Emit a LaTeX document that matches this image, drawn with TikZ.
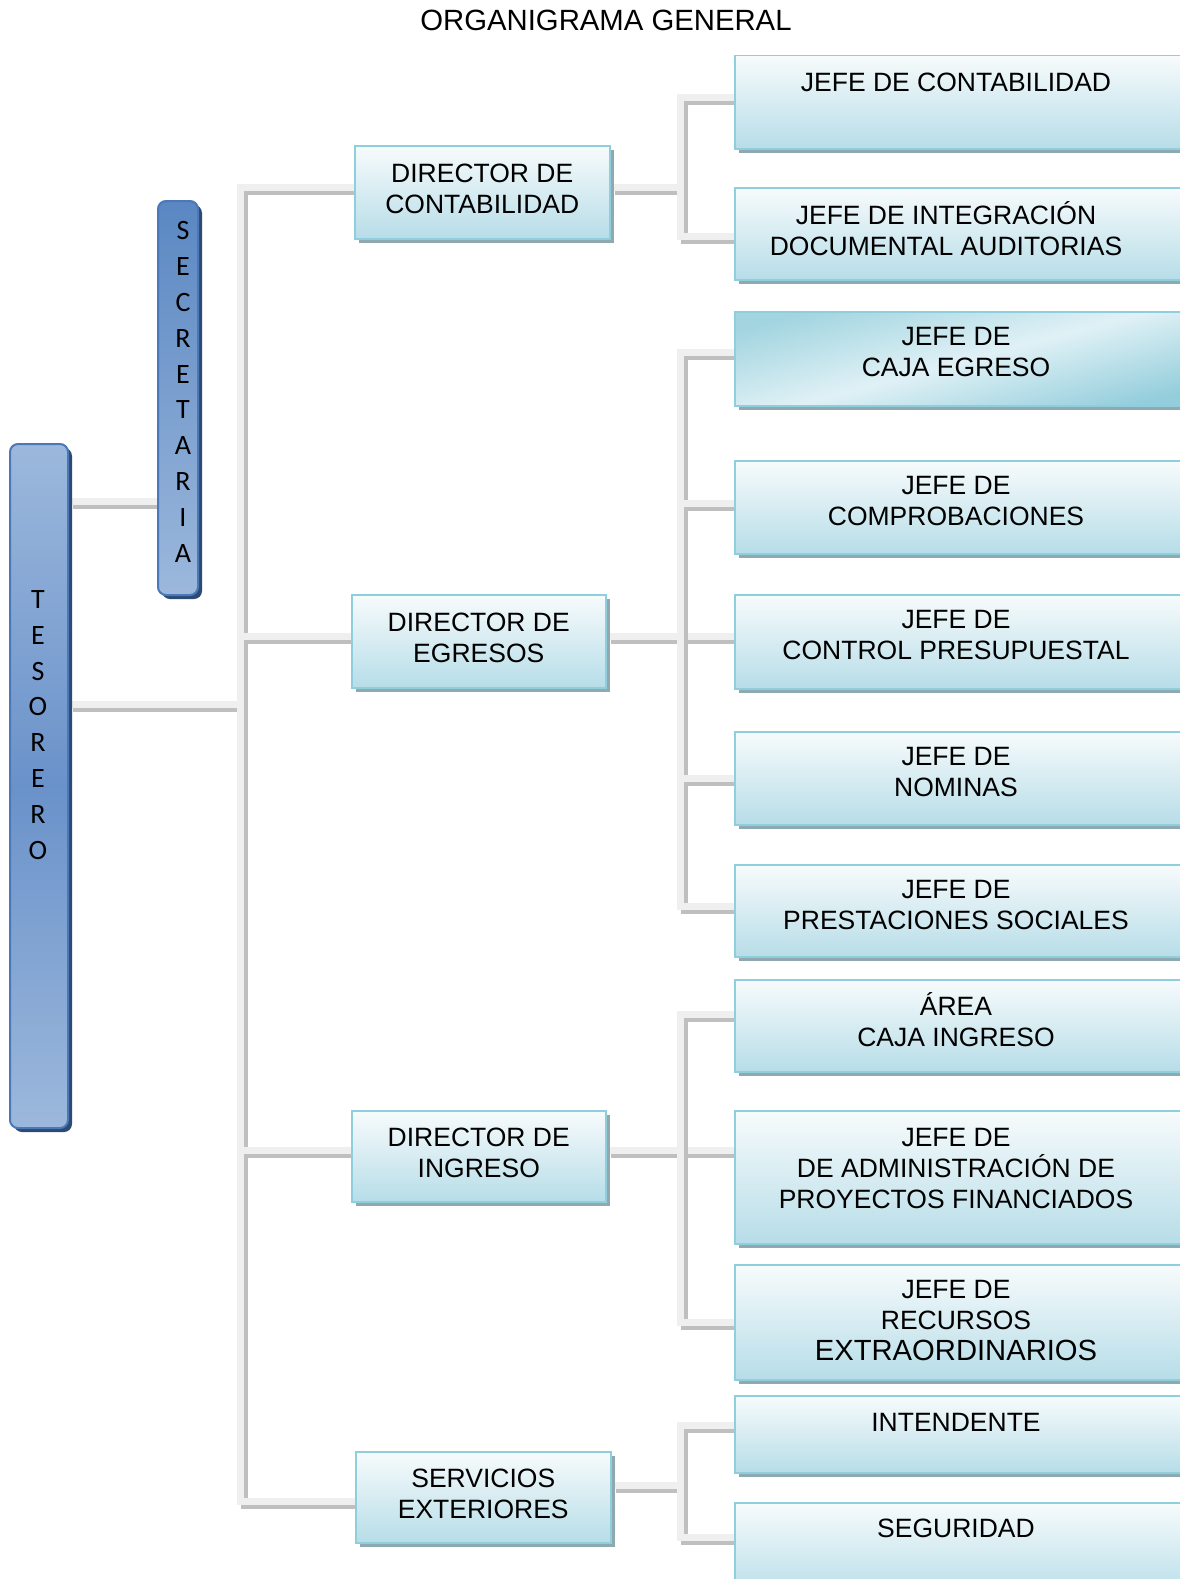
\documentclass[tikz,border=0pt]{standalone}
\usepackage{fontspec}
\setmainfont{Liberation Sans}
\newfontfamily\calib{Carlito}
\usetikzlibrary{shadows}
\pgfdeclarelayer{background}
\pgfsetlayers{background,main}
\definecolor{boxtop}{HTML}{F7FBFC}
\definecolor{boxbot}{HTML}{B7DDE8}
\definecolor{boxborder}{HTML}{8FCFDD}
\definecolor{boxshadow}{HTML}{8FA9B0}
\definecolor{bluelight}{HTML}{9CB8DC}
\definecolor{bluemid}{HTML}{6A92CA}
\definecolor{bluedark}{HTML}{5A87C2}
\definecolor{blueborder}{HTML}{4A78B8}
\definecolor{blueshadow}{HTML}{2C4A73}
\definecolor{barlight}{HTML}{EFEFEF}
\definecolor{bardark}{HTML}{BFBFBF}
\definecolor{egtop}{HTML}{A3D5E0}
\definecolor{egmid}{HTML}{E0F1F6}
\definecolor{egbot}{HTML}{94CEDC}
\begin{document}
\begin{tikzpicture}[x=1pt,y=-1pt,
  txt/.style={font=\fontsize{26.5}{31}\selectfont, align=center, inner sep=0pt},
  box/.style={draw=boxborder, line width=1.5pt, top color=boxtop, bottom color=boxbot,
    general shadow={fill=boxshadow, shadow xshift=4pt, shadow yshift=-4pt},
    inner sep=0pt, anchor=north west, align=center, font=\fontsize{26.5}{31}\selectfont},
  dirbox/.style={box, minimum width=255pt, minimum height=92pt, text depth=7pt},
  jefebox/.style={box, minimum width=470pt},
  bluebox/.style={draw=blueborder, line width=2pt, rounded corners=8pt, anchor=north west,
    general shadow={fill=blueshadow, shadow xshift=4pt, shadow yshift=-4pt}, inner sep=0pt},
  vlet/.style={font=\calib\fontsize{28}{35.8}\selectfont, align=center, inner sep=0pt},
  bar/.style={line width=7pt, draw=barlight, line join=miter,
    preaction={draw=bardark, line width=7pt, transform canvas={xshift=4pt,yshift=-4pt}}}
]
\useasboundingbox (0,0) rectangle (1179,1579);

% title
\node[font=\fontsize{29.3}{33}\selectfont, inner sep=0pt] (title) at (606,20) {ORGANIGRAMA GENERAL};

% Tesorero and Secretaria
\node[bluebox, minimum width=58pt, minimum height=684pt, top color=bluelight, bottom color=bluelight, middle color=bluemid] (tes) at (9,443) {};
\node[vlet] (teslbl) at (38,725) {T\\E\\S\\O\\R\\E\\R\\O};
\node[bluebox, minimum width=40pt, minimum height=394pt, top color=bluedark, bottom color=bluelight] (sec) at (157,200) {};
\node[vlet] (seclbl) at (183,392) {S\\E\\C\\R\\E\\T\\A\\R\\I\\A};

% Directors
\node[dirbox, minimum height=93pt] (dirC) at (354,145) {DIRECTOR DE\\CONTABILIDAD};
\node[dirbox, minimum width=254pt, minimum height=93pt] (dirE) at (351,594) {DIRECTOR DE\\EGRESOS};
\node[dirbox, minimum width=254pt, minimum height=91pt] (dirI) at (351,1110) {DIRECTOR DE\\INGRESO};
\node[dirbox, minimum height=91pt] (dirS) at (355,1451) {SERVICIOS\\EXTERIORES};

% Jefes
\node[jefebox, minimum height=93pt] (j1) at (734,55) {};
\node[txt] (t1) at (956,82) {JEFE DE CONTABILIDAD};
\node[jefebox, minimum height=92pt] (j2) at (734,187) {};
\node[txt] (t2) at (946,229) {JEFE DE INTEGRACIÓN\\DOCUMENTAL AUDITORIAS};
\node[jefebox, minimum height=94pt, top color=egtop, bottom color=egbot, middle color=egmid, shading angle=15] (j3) at (734,311) {};
\node[txt] (t3) at (956,352) {JEFE DE\\CAJA EGRESO};
\node[jefebox, minimum height=93pt] (j4) at (734,460) {};
\node[txt] (t4) at (956,501) {JEFE DE\\COMPROBACIONES};
\node[jefebox, minimum height=94pt] (j5) at (734,594) {};
\node[txt] (t5) at (956,635) {JEFE DE\\CONTROL PRESUPUESTAL};
\node[jefebox, minimum height=93pt] (j6) at (734,731) {};
\node[txt] (t6) at (956,772) {JEFE DE\\NOMINAS};
\node[jefebox, minimum height=92pt] (j7) at (734,864) {};
\node[txt] (t7) at (956,905) {JEFE DE\\PRESTACIONES SOCIALES};
\node[jefebox, minimum height=92pt] (j8) at (734,979) {};
\node[txt] (t8) at (956,1020) {ÁREA\\CAJA INGRESO};
\node[jefebox, minimum height=133pt] (j9) at (734,1110) {};
\node[txt] (t9) at (956,1168) {JEFE DE\\DE ADMINISTRACIÓN DE\\PROYECTOS FINANCIADOS};
\node[jefebox, minimum height=115pt] (j10) at (734,1264) {};
\node[txt] (t10) at (956,1321) {JEFE DE\\RECURSOS\\{\fontsize{29.2}{31}\selectfont EXTRAORDINARIOS}};
\node[jefebox, minimum height=77pt] (j11) at (734,1395) {};
\node[txt] (t11) at (956,1422) {INTENDENTE};
\node[jefebox, minimum height=95pt] (j12) at (734,1502) {};
\node[txt] (t12) at (956,1528) {SEGURIDAD};

% connector coordinates
\coordinate (TT) at (240,704);
\coordinate (T1) at (240,187);
\coordinate (TE) at (240,636);
\coordinate (TI) at (240,1150);
\coordinate (T4) at (240,1501);
\coordinate (SC) at (120,501);
\coordinate (gC) at (680,187);
\coordinate (gC1) at (680,97);
\coordinate (gC2) at (680,236);
\coordinate (gE) at (680,636);
\coordinate (gE1) at (680,352);
\coordinate (gE2) at (680,503);
\coordinate (gE4) at (680,778);
\coordinate (gE5) at (680,906);
\coordinate (gI) at (680,1150);
\coordinate (gI1) at (680,1014);
\coordinate (gI3) at (680,1322);
\coordinate (gS) at (680,1485);
\coordinate (gS1) at (680,1425);
\coordinate (gS2) at (680,1537);

\begin{pgfonlayer}{background}
\fill[white] (0,0) rectangle (1179,1579);
% Tesorero - Secretaria
\draw[bar] (tes.east |- SC) -- (sec.west |- SC);
% main trunk
\draw[bar] (tes.east |- TT) -- (TT);
\draw[bar] (dirC.west |- T1) -- (T1) -- (T4) -- (dirS.west |- T4);
\draw[bar] (TE) -- (dirE.west |- TE);
\draw[bar] (TI) -- (dirI.west |- TI);
% Contabilidad group
\draw[bar] (dirC.east |- gC) -- (gC);
\draw[bar] (j1.west |- gC1) -- (gC1) -- (gC2) -- (j2.west |- gC2);
% Egresos group
\draw[bar] (dirE.east |- gE) -- (j5.west |- gE);
\draw[bar] (j3.west |- gE1) -- (gE1) -- (gE5) -- (j7.west |- gE5);
\draw[bar] (gE2) -- (j4.west |- gE2);
\draw[bar] (gE4) -- (j6.west |- gE4);
% Ingreso group
\draw[bar] (dirI.east |- gI) -- (j9.west |- gI);
\draw[bar] (j8.west |- gI1) -- (gI1) -- (gI3) -- (j10.west |- gI3);
% Servicios group
\draw[bar] (dirS.east |- gS) -- (gS);
\draw[bar] (j11.west |- gS1) -- (gS1) -- (gS2) -- (j12.west |- gS2);
\end{pgfonlayer}
\end{tikzpicture}
\end{document}
